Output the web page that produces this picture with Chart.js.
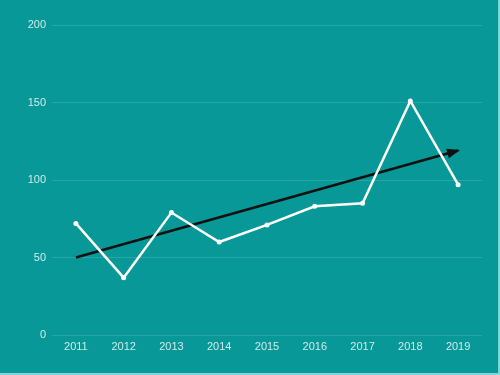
<!DOCTYPE html>
<html>
<head>
<meta charset="utf-8">
<script src="https://cdn.jsdelivr.net/npm/chart.js@4"></script>
<style>
  html, body { margin: 0; padding: 0; }
  body { width: 500px; height: 375px; background: #099898; overflow: hidden; }
  .wrap { position: relative; width: 498px; height: 373px; border-right: 2px solid #7fd6d6; border-bottom: 2px solid #7fd6d6; }
</style>
</head>
<body>
<div class="wrap"><canvas id="chart"></canvas></div>
<script>
const years = ['2011', '2012', '2013', '2014', '2015', '2016', '2017', '2018', '2019'];
const values = [72, 37, 79, 60, 71, 83, 85, 151, 97];
const trend = [50, null, null, null, null, null, null, null, 119];
const yTicks = [0, 50, 100, 150, 200];

// arrowhead at the end of the trend line
const arrowHead = {
  id: 'arrowHead',
  afterDatasetsDraw(chart) {
    const meta = chart.getDatasetMeta(1);
    const pts = meta.data.filter((p, i) => trend[i] !== null);
    const a = pts[0], b = pts[pts.length - 1];
    const ang = Math.atan2(b.y - a.y, b.x - a.x);
    const ctx = chart.ctx;
    const len = 11, w = 5;
    ctx.save();
    ctx.translate(b.x, b.y);
    ctx.rotate(ang);
    ctx.fillStyle = '#111';
    ctx.beginPath();
    ctx.moveTo(2, 0);
    ctx.lineTo(-len, -w);
    ctx.lineTo(-len, w);
    ctx.closePath();
    ctx.fill();
    ctx.restore();
  }
};

new Chart(document.getElementById('chart'), {
  type: 'line',
  data: {
    labels: years,
    datasets: [
      {
        data: values,
        borderColor: '#ffffff',
        backgroundColor: '#ffffff',
        borderWidth: 2.5,
        pointRadius: 2.5,
        pointBorderWidth: 0,
        tension: 0
      },
      {
        data: trend,
        borderColor: '#111111',
        borderWidth: 2.5,
        pointRadius: 0,
        spanGaps: true,
        tension: 0
      }
    ]
  },
  options: {
    responsive: true,
    maintainAspectRatio: false,
    animation: false,
    layout: { padding: { top: 25, right: 16, left: 0, bottom: 0 } },
    plugins: { legend: { display: false }, tooltip: { enabled: false } },
    scales: {
      x: {
        offset: true,
        grid: { display: false, drawTicks: false },
        border: { display: false },
        ticks: { color: 'rgba(225,245,245,0.9)', font: { family: 'Liberation Sans', size: 11 }, padding: 5, maxRotation: 0 },
        afterFit(s) { s.height = 38; }
      },
      y: {
        min: 0,
        max: 200,
        afterBuildTicks(s) { s.ticks = yTicks.map(v => ({ value: v })); },
        grid: { color: 'rgba(255,255,255,0.13)', lineWidth: 1, drawTicks: false },
        border: { display: false },
        ticks: { color: 'rgba(225,245,245,0.9)', font: { family: 'Liberation Sans', size: 11 }, padding: 6 },
        afterFit(s) { s.width = 52; }
      }
    }
  },
  plugins: [arrowHead]
});
</script>
</body>
</html>
